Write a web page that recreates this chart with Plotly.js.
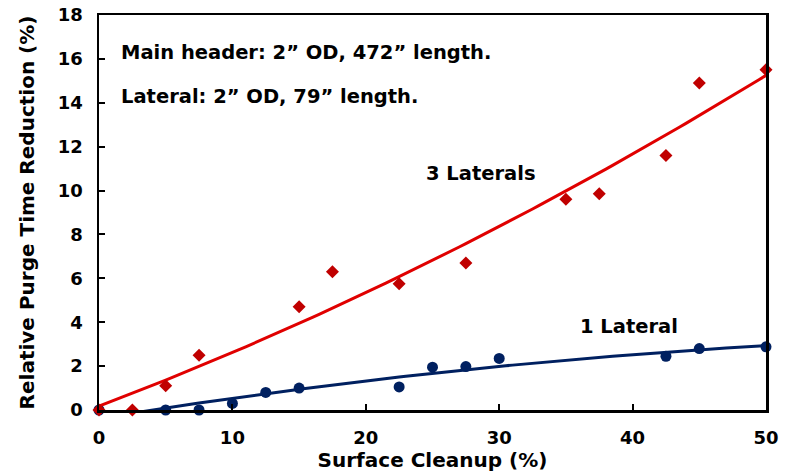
<!DOCTYPE html>
<html>
<head>
<meta charset="utf-8">
<script src="https://cdn.plot.ly/plotly-3.0.1.min.js"></script>
<style>html,body{margin:0;padding:0;background:#fff;}#chart{width:792px;height:475px;}</style>
</head>
<body>
<div id="chart"></div>
<script>
// Data
var x3 = [0, 2.5, 5, 7.5, 15, 17.5, 22.5, 27.5, 35, 37.5, 42.5, 45, 50];
var y3 = [0, 0, 1.1, 2.5, 4.7, 6.3, 5.75, 6.7, 9.6, 9.85, 11.6, 14.9, 15.5];
var x1 = [0, 5, 7.5, 10, 12.5, 15, 22.5, 25, 27.5, 30, 42.5, 45, 50];
var y1 = [0, 0, 0, 0.3, 0.8, 1.0, 1.05, 1.95, 1.98, 2.35, 2.45, 2.8, 2.88];
var xTicks = [0, 10, 20, 30, 40, 50];
var yTicks = [0, 2, 4, 6, 8, 10, 12, 14, 16, 18];

// Second-order polynomial least-squares trendline (as the spreadsheet trendline)
function polyFit2(xs, ys) {
  var n = xs.length, S = [0,0,0,0,0], T = [0,0,0];
  for (var i = 0; i < n; i++) {
    var p = 1;
    for (var k = 0; k < 5; k++) { S[k] += p; if (k < 3) T[k] += p * ys[i]; p *= xs[i]; }
  }
  var A = [[S[0],S[1],S[2],T[0]],[S[1],S[2],S[3],T[1]],[S[2],S[3],S[4],T[2]]];
  for (var c = 0; c < 3; c++) {
    for (var r = c + 1; r < 3; r++) {
      var f = A[r][c] / A[c][c];
      for (var j = c; j < 4; j++) A[r][j] -= f * A[c][j];
    }
  }
  var coef = [0,0,0];
  for (var r2 = 2; r2 >= 0; r2--) {
    var s = A[r2][3];
    for (var j2 = r2 + 1; j2 < 3; j2++) s -= A[r2][j2] * coef[j2];
    coef[r2] = s / A[r2][r2];
  }
  return coef;
}
function trend(xs, ys) {
  var c = polyFit2(xs, ys), lo = Math.min.apply(null, xs), hi = Math.max.apply(null, xs);
  var tx = [], ty = [];
  for (var i = 0; i <= 100; i++) {
    var x = lo + (hi - lo) * i / 100;
    tx.push(x); ty.push(c[0] + c[1] * x + c[2] * x * x);
  }
  return {x: tx, y: ty};
}
var t3 = trend(x3, y3), t1 = trend(x1, y1);

var RED_M = '#C00000', RED_L = '#E00000', BLUE = '#002060';
var FONT = 'DejaVu Sans, Liberation Sans, Arial, sans-serif';

var traces = [
  {x: t1.x, y: t1.y, mode: 'lines', line: {color: BLUE, width: 3}, hoverinfo: 'skip', showlegend: false},
  {x: x1, y: y1, mode: 'markers', marker: {symbol: 'circle', size: 11, color: BLUE}, cliponaxis: false, name: '1 Lateral', showlegend: false},
  {x: t3.x, y: t3.y, mode: 'lines', line: {color: RED_L, width: 3}, hoverinfo: 'skip', showlegend: false},
  {x: x3, y: y3, mode: 'markers', marker: {symbol: 'diamond', size: 10, color: RED_M}, cliponaxis: false, name: '3 Laterals', showlegend: false}
];

var axisCommon = {
  showgrid: false, zeroline: false, showline: true, linecolor: '#000', linewidth: 2.5,
  mirror: true, ticks: 'inside', ticklen: 6, tickwidth: 2, tickcolor: '#000',
  tickfont: {family: FONT, size: 18, color: '#000', weight: 700}
};

var layout = {
  width: 792, height: 475,
  margin: {l: 99, r: 26, t: 15, b: 65},
  paper_bgcolor: '#fff', plot_bgcolor: '#fff',
  showlegend: false,
  xaxis: Object.assign({}, axisCommon, {
    range: [0, 50], tickvals: xTicks, ticktext: xTicks.map(String),
    ticklabelstandoff: 10,
    title: {text: 'Surface Cleanup (%)', font: {family: FONT, size: 20, color: '#000', weight: 700}, standoff: 2}
  }),
  yaxis: Object.assign({}, axisCommon, {
    range: [0, 18], tickvals: yTicks, ticktext: yTicks.map(String),
    ticklabelstandoff: 10,
    title: {text: 'Relative Purge Time Reduction (%)', font: {family: FONT, size: 20, color: '#000', weight: 700}, standoff: 18}
  }),
  annotations: [
    {x: 1.5, y: 16.3, xref: 'x', yref: 'y', xanchor: 'left', yanchor: 'middle', showarrow: false,
     text: 'Main header: 2\u201D OD, 472\u201D length.', font: {family: FONT, size: 19.5, color: '#000', weight: 700}},
    {x: 1.5, y: 14.3, xref: 'x', yref: 'y', xanchor: 'left', yanchor: 'middle', showarrow: false,
     text: 'Lateral: 2\u201D OD, 79\u201D length.', font: {family: FONT, size: 19.5, color: '#000', weight: 700}},
    {x: 28.6, y: 10.8, xref: 'x', yref: 'y', xanchor: 'center', yanchor: 'middle', showarrow: false,
     text: '3 Laterals', font: {family: FONT, size: 19.5, color: '#000', weight: 700}},
    {x: 39.7, y: 3.8, xref: 'x', yref: 'y', xanchor: 'center', yanchor: 'middle', showarrow: false,
     text: '1 Lateral', font: {family: FONT, size: 19.5, color: '#000', weight: 700}}
  ]
};

Plotly.newPlot('chart', traces, layout, {displayModeBar: false, staticPlot: true});
</script>
</body>
</html>
